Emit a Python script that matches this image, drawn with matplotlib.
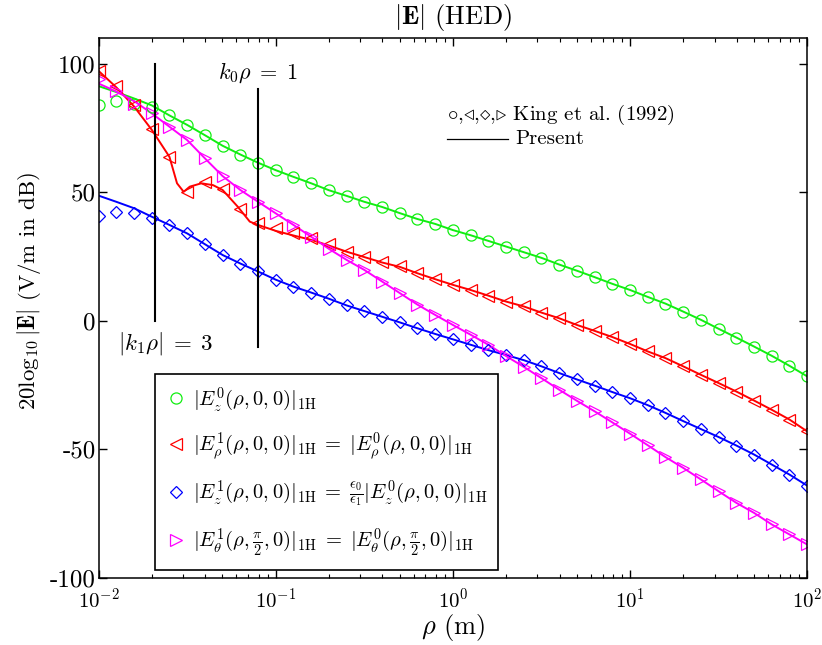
import numpy as np
import matplotlib
matplotlib.use('Agg')
from matplotlib import pyplot as plt
from matplotlib.lines import Line2D

plt.rcParams['font.family'] = 'serif'
plt.rcParams['font.serif'] = ['cmr10']
plt.rcParams['mathtext.fontset'] = 'cm'
plt.rcParams['axes.unicode_minus'] = False
plt.rcParams['axes.formatter.use_mathtext'] = True

# sample grid, 10 points per decade from 1e-2 to 1e2
rho = 10 ** np.linspace(-2, 2, 41)

# King et al. (1992) markers
ez0_king = [83.9, 85.5, 84.3, 83.0, 79.9, 76.2, 72.2, 68.1, 64.7, 61.5, 58.6, 56.0, 53.5, 50.8,
            48.6, 46.3, 44.3, 41.9, 39.6, 37.7, 35.3, 33.3, 31.1, 28.9, 26.7, 24.5, 21.9, 19.5,
            17.0, 14.4, 12.0, 9.3, 6.7, 3.6, 0.4, -3.1, -6.5, -10.0, -13.6, -17.5, -21.6]
erho_king = [97.2, 91.3, 83.9, 74.8, 63.6, 50.2, 54.1, 51.1, 43.4, 37.9, 36.0, 34.0, 32.1, 29.8,
             26.9, 25.0, 22.7, 21.2, 18.5, 16.2, 14.0, 12.0, 9.8, 7.5, 5.6, 3.2, 1.0, -1.6,
             -3.9, -6.3, -9.0, -11.9, -14.5, -17.7, -21.0, -24.2, -27.5, -31.0, -34.6, -38.4, -43.0]
ez1_king = [40.9, 42.4, 41.8, 39.9, 37.3, 34.0, 29.8, 25.6, 22.3, 19.2, 16.0, 13.3, 11.0, 8.6,
            6.0, 3.8, 1.6, -0.6, -2.9, -5.1, -7.2, -9.3, -11.4, -13.3, -15.3, -17.7, -20.3, -22.8,
            -25.2, -27.7, -30.1, -32.8, -35.8, -39.0, -42.1, -45.2, -48.5, -52.0, -55.9, -59.8, -64.1]
eth_king = [94.0, 89.5, 84.5, 80.7, 75.5, 70.3, 63.2, 56.3, 50.9, 46.3, 41.8, 37.3, 32.7, 28.0,
            23.7, 19.8, 15.3, 10.8, 6.3, 2.3, -1.6, -5.4, -9.3, -13.7, -17.9, -22.3, -26.8, -31.1,
            -35.2, -39.5, -43.9, -48.4, -53.0, -57.2, -61.7, -66.3, -70.8, -74.7, -79.2, -83.1, -87.0]

# present method (solid lines)
ez0_line = [91.3, 89.0, 86.5, 83.8] + ez0_king[4:]
ez1_line = [48.7, 46.3, 43.8, 40.5] + ez1_king[4:]
eth_line = [92.3, 89.2, 85.5] + eth_king[3:]

rho_red_near = [0.01, 0.0126, 0.0158, 0.02, 0.0251, 0.0277, 0.0302, 0.0327, 0.038, 0.0442,
                0.0501, 0.061, 0.0713, 0.0794]
erho_near = [97.2, 90.8, 83.5, 74.2, 63.8, 53.5, 50.2, 52.2, 53.5, 52.8, 50.9, 44.4, 38.6, 37.3]
erho_far = [35.0, 33.2, 31.5, 29.3, 26.9, 24.8, 22.7, 21.0] + erho_king[18:]
rho_red_line = list(rho_red_near) + list(rho[10:])
erho_line = erho_near + erho_far

fig = plt.figure(figsize=(8.22, 6.45), dpi=100)
ax = fig.add_axes([0.120, 0.104, 0.862, 0.837])

green, red, blue, mag = '#11ee11', '#ff0000', '#0000ff', '#ff00ff'
lw = 1.4
ax.plot(rho, ez0_line, '-', color=green, lw=lw)
ax.plot(rho_red_line, erho_line, '-', color=red, lw=lw)
ax.plot(rho, ez1_line, '-', color=blue, lw=lw)
ax.plot(rho, eth_line, '-', color=mag, lw=lw)

mk = dict(ls='none', mfc='none', mew=0.9)
h1, = ax.plot(rho, ez0_king, marker='o', ms=8, mec=green, **mk)
h2, = ax.plot(rho, erho_king, marker='<', ms=9, mec=red, **mk)
h3, = ax.plot(rho, ez1_king, marker='D', ms=6.5, mec=blue, **mk)
h4, = ax.plot(rho, eth_king, marker='>', ms=9, mec=mag, **mk)

# reference lines
ax.plot([0.0207, 0.0207], [0, 100], 'k-', lw=1.5)
ax.plot([0.079, 0.079], [-10, 90], 'k-', lw=1.5)
ax.text(0.079, 96.5, r'$k_0\rho \;=\; 1$', ha='center', va='center', fontsize=16)
ax.text(0.0238, -9.0, r'$|k_1\rho| \;=\; 3$', ha='center', va='center', fontsize=16.5)

ax.text(0.4915, 0.857, r'$\circ$,$\triangleleft$,$\diamond$,$\triangleright$ King et al. (1992)',
        transform=ax.transAxes, ha='left', va='center', fontsize=15)
ax.add_line(Line2D([0.4915, 0.578], [0.813, 0.813], transform=ax.transAxes, color='k', lw=0.9))
ax.text(0.588, 0.813, 'Present', transform=ax.transAxes, ha='left', va='center', fontsize=15)

eq = r'\;=\;'
labels = [r'$|E_z^0(\rho,0,0)|_{1\mathrm{H}}$',
          r'$|E_\rho^1(\rho,0,0)|_{1\mathrm{H}}' + eq + r'|E_\rho^0(\rho,0,0)|_{1\mathrm{H}}$',
          r'$|E_z^1(\rho,0,0)|_{1\mathrm{H}}' + eq + r'\frac{\epsilon_0}{\epsilon_1}|E_z^0(\rho,0,0)|_{1\mathrm{H}}$',
          r'$|E_\theta^1(\rho,\frac{\pi}{2},0)|_{1\mathrm{H}}' + eq + r'|E_\theta^0(\rho,\frac{\pi}{2},0)|_{1\mathrm{H}}$']
leg = ax.legend([h1, h2, h3, h4], labels, loc='lower left', bbox_to_anchor=(0.079, 0.015),
                fontsize=14.8, fancybox=False, edgecolor='k', framealpha=1, labelspacing=0.8,
                handletextpad=0.3, handlelength=1.0, borderpad=0.55, borderaxespad=0)
leg.get_frame().set_linewidth(1.2)

ax.set_xscale('log')
ax.set_xlim(1e-2, 1e2)
ax.set_ylim(-100, 110)
ax.set_yticks([-100, -50, 0, 50, 100])
ax.set_yticklabels(['-100', '-50', '0', '50', '100'])
ax.tick_params(which='both', direction='in', top=True, right=True, labelsize=18)
ax.tick_params(axis='x', labelsize=15, pad=7)
ax.tick_params(axis='y', pad=2)
ax.tick_params(which='major', length=6, width=1)
ax.tick_params(which='minor', length=3, width=0.8)
for s in ax.spines.values():
    s.set_linewidth(1.1)

ax.set_xlabel(r'$\rho$ (m)', fontsize=19, labelpad=0)
ax.set_ylabel(r'$20\log_{10}|\mathbf{E}|$ (V/m in dB)', fontsize=16.5)
ax.yaxis.set_label_coords(-0.078, 0.531)
ax.set_title(r'$|\mathbf{E}|$ (HED)', fontsize=19, pad=10)

fig.savefig('out.png', dpi=100)
